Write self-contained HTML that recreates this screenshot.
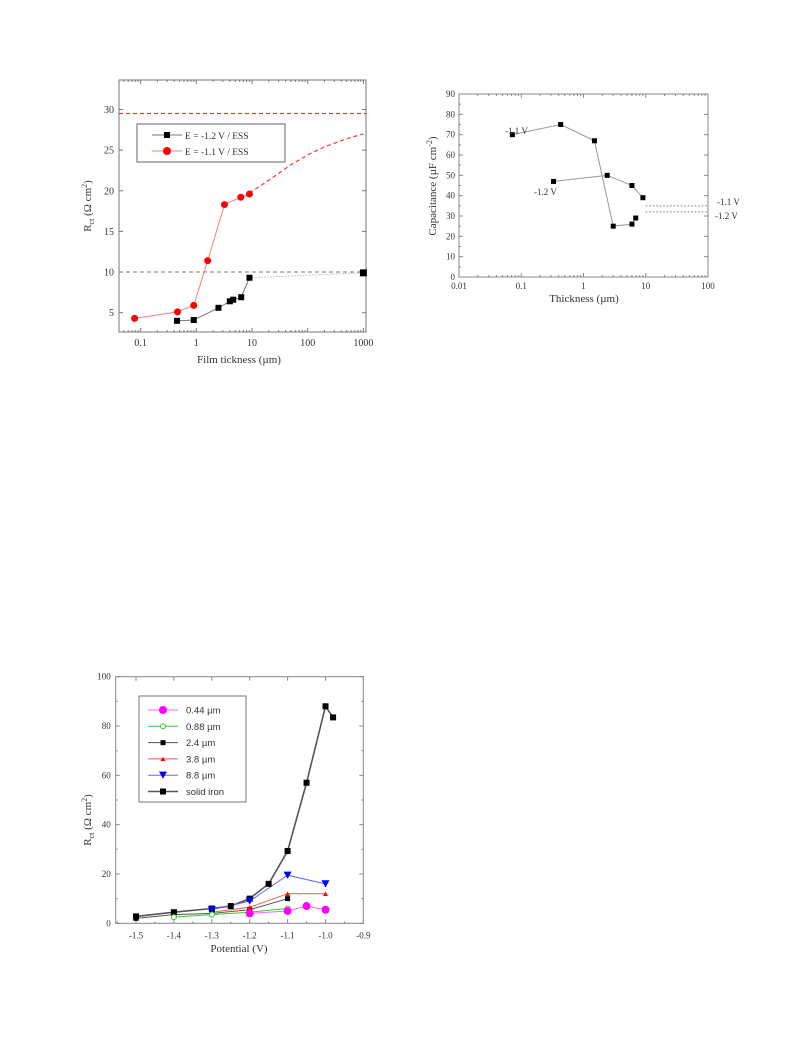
<!DOCTYPE html>
<html><head><meta charset="utf-8"><style>
html,body{margin:0;padding:0;background:#fff;width:793px;height:1059px;overflow:hidden}
svg{position:absolute;left:0;top:0}
text{font-family:"Liberation Serif",serif;fill:#333}
</style></head><body>
<svg id="svg" width="793" height="1059"></svg>
<script>
// ---------- Chart 1 data ----------
const c1BlackX=[0.45,0.9,2.5,4,4.6,6.4,9];
const c1BlackY=[4.0,4.1,5.6,6.4,6.6,6.9,9.3];
const c1SolidX=[1000]; const c1SolidY=[9.9];
const c1RedX=[0.078,0.46,0.9,1.6,3.2,6.3,9];
const c1RedY=[4.3,5.1,5.9,11.4,18.3,19.2,19.6];
const c1RedFitX=[9,20,50,100,200,500,1000];
const c1RedFitY=[19.7,21.3,23.2,24.4,25.4,26.4,27.0];
const c1YTicks=[5,10,15,20,25,30];
const c1XTicks=[0.1,1,10,100,1000];
const c1XTickLabels=["0.1","1","10","100","1000"];
// ---------- Chart 2 data ----------
const c2AX=[0.072,0.43,1.5,3.0,6.0,6.9];
const c2AY=[70,75,67,25,26,29];
const c2BX=[0.33,2.4,6.0,9.0];
const c2BY=[47,50,45,39];
const c2YTicks=[0,10,20,30,40,50,60,70,80,90];
const c2XTicks=[0.01,0.1,1,10,100];
const c2XTickLabels=["0.01","0.1","1","10","100"];
// ---------- Chart 3 data ----------
const c3Solid={x:[-1.5,-1.4,-1.3,-1.25,-1.2,-1.15,-1.1,-1.05,-1.0,-0.98],y:[2.8,4.5,6,7,10,16,29.3,57,88,83.5]};
const c3T24={x:[-1.5,-1.4,-1.3,-1.2,-1.1],y:[2,3.5,4,5.5,10]};
const c3T38={x:[-1.3,-1.2,-1.1,-1.0],y:[4.5,6.5,12,12]};
const c3T88={x:[-1.3,-1.2,-1.1,-1.0],y:[5.5,9,19.5,16]};
const c3T088={x:[-1.4,-1.3,-1.2,-1.1],y:[2.5,3.5,4.5,6]};
const c3T044={x:[-1.2,-1.1,-1.05,-1.0],y:[4,5,7,5.5]};
const c3XTicks=[-1.5,-1.4,-1.3,-1.2,-1.1,-1.0,-0.9];
const c3XTickLabels=["-1.5","-1.4","-1.3","-1.2","-1.1","-1.0","-0.9"];
const c3YTicks=[0,20,40,60,80,100];

const svg=document.getElementById('svg');
const NS='http://www.w3.org/2000/svg';
function mk(tag,attrs,name,parent){const e=document.createElementNS(NS,tag);for(const k in attrs)e.setAttribute(k,attrs[k]);


(parent||svg).appendChild(e);return e;}
function txt(x,y,s,name,opt){const t=mk('text',Object.assign({x:x,y:y,'font-size':10,'text-anchor':'middle'},opt||{}),name);t.textContent=s;return t;}
function poly(xs,ys,fx,fy,attrs,name){return mk('polyline',Object.assign({points:xs.map((v,i)=>fx(v)+','+fy(ys[i])).join(' '),fill:'none'},attrs),name);}
function sq(x,y,s,fill,name){return mk('rect',{x:x-s/2,y:y-s/2,width:s,height:s,fill:fill},name);}
function circ(x,y,r,fill,name,stroke){return mk('circle',{cx:x,cy:y,r:r,fill:fill,stroke:stroke||'none'},name);}
function tri(x,y,s,fill,down,name){const h=s*0.9;const p=down?[[x-s/2,y-h/2],[x+s/2,y-h/2],[x,y+h/2]]:[[x-s/2,y+h/2],[x+s/2,y+h/2],[x,y-h/2]];return mk('polygon',{points:p.map(a=>a.join(',')).join(' '),fill:fill},name);}

// ===== Chart 1 =====
const L1=119,R1=366,T1=80,B1=332;
const x1=v=>196.3+Math.log10(v)*55.7;
const y1=v=>312.7-(v-5)*8.13;
mk('rect',{x:L1,y:T1,width:R1-L1,height:B1-T1,fill:'none',stroke:'#777','stroke-width':1},'chart1-frame');
c1YTicks.forEach(v=>{mk('line',{x1:L1,x2:L1+4,y1:y1(v),y2:y1(v),stroke:'#777'},'c1-y-tick');mk('line',{x1:R1,x2:R1-4,y1:y1(v),y2:y1(v),stroke:'#777'},'c1-y-tick-right');txt(L1-5,y1(v)+3.5,String(v),'c1-y-tick-label',{'text-anchor':'end'});});
for(let d=-2;d<=3;d++)for(let m=1;m<10;m++){const v=m*Math.pow(10,d);const X=x1(v);if(X<L1||X>R1)continue;const l=m==1?4:2;
mk('line',{x1:X,x2:X,y1:B1,y2:B1-l,stroke:'#777'},'c1-x-tick');mk('line',{x1:X,x2:X,y1:T1,y2:T1+l,stroke:'#777'},'c1-x-tick-top');}
c1XTicks.forEach((v,i)=>txt(x1(v),B1+14,c1XTickLabels[i],'c1-x-tick-label'));
txt(239,363,'Film tickness (µm)','c1-x-axis-title',{'font-size':11});
const yt1=mk('text',{x:0,y:0,'font-size':11,'text-anchor':'middle',transform:'translate(91,206) rotate(-90)'},'c1-y-axis-title');
yt1.innerHTML='R<tspan font-size="8" dy="3">ct</tspan><tspan dy="-3"> (Ω cm</tspan><tspan font-size="8" dy="-4">2</tspan><tspan dy="4">)</tspan>';
mk('line',{x1:L1,x2:R1,y1:y1(29.5),y2:y1(29.5),stroke:'#f33','stroke-width':1.2,'stroke-dasharray':'4,3'},'c1-red-limit-line');
mk('line',{x1:L1,x2:R1,y1:y1(10),y2:y1(10),stroke:'#777','stroke-dasharray':'4,3'},'c1-gray-limit-line');
poly(c1RedFitX,c1RedFitY,x1,y1,{stroke:'#f33','stroke-dasharray':'4,3','stroke-width':1.2},'c1-red-fit');
poly([c1BlackX[c1BlackX.length-1],c1SolidX[0]],[c1BlackY[c1BlackY.length-1],c1SolidY[0]],x1,y1,{stroke:'#999','stroke-dasharray':'1,2'},'c1-black-extension');
poly(c1RedX,c1RedY,x1,y1,{stroke:'#f08080'},'c1-red-line');
poly(c1BlackX,c1BlackY,x1,y1,{stroke:'#777'},'c1-black-line');
c1RedX.forEach((v,i)=>circ(x1(v),y1(c1RedY[i]),3.5,'#f00','c1-red-point'));
c1BlackX.forEach((v,i)=>sq(x1(v),y1(c1BlackY[i]),6,'#000','c1-black-point'));
c1SolidX.forEach((v,i)=>sq(x1(v),y1(c1SolidY[i]),7,'#000','c1-solid-point'));
mk('rect',{x:137,y:124,width:148,height:38,fill:'#fff',stroke:'#666','stroke-width':1},'c1-legend');
mk('line',{x1:152,x2:182,y1:135,y2:135,stroke:'#777'},'c1-legend-line-black');sq(167,135,6,'#000','c1-legend-marker-black');
txt(185,139,'E = -1.2 V / ESS','c1-legend-label-black',{'text-anchor':'start','font-size':9.5});
mk('line',{x1:152,x2:182,y1:151,y2:151,stroke:'#f08080'},'c1-legend-line-red');circ(167,151,4,'#f00','c1-legend-marker-red');
txt(185,155,'E = -1.1 V / ESS','c1-legend-label-red',{'text-anchor':'start','font-size':9.5});

// ===== Chart 2 =====
const L2=459,R2=708,T2=94,B2=277;
const x2=v=>459+(Math.log10(v)+2)*62.25;
const y2=v=>277-v*(183/90);
mk('rect',{x:L2,y:T2,width:R2-L2,height:B2-T2,fill:'none',stroke:'#888'},'chart2-frame');
c2YTicks.forEach(v=>{mk('line',{x1:L2,x2:L2+4,y1:y2(v),y2:y2(v),stroke:'#888'},'c2-y-tick');mk('line',{x1:R2,x2:R2-4,y1:y2(v),y2:y2(v),stroke:'#888'},'c2-y-tick-right');txt(L2-4,y2(v)+3,String(v),'c2-y-tick-label',{'text-anchor':'end','font-size':9});
if(v<90){mk('line',{x1:L2,x2:L2+2,y1:y2(v+5),y2:y2(v+5),stroke:'#888'},'c2-y-minor');}});
for(let d=-2;d<=2;d++)for(let m=1;m<10;m++){const v=m*Math.pow(10,d);const X=x2(v);if(X>R2+0.5)continue;const l=m==1?4:2;
mk('line',{x1:X,x2:X,y1:B2,y2:B2-l,stroke:'#888'},'c2-x-tick');mk('line',{x1:X,x2:X,y1:T2,y2:T2+l,stroke:'#888'},'c2-x-tick-top');}
c2XTicks.forEach((v,i)=>txt(x2(v),B2+12,c2XTickLabels[i],'c2-x-tick-label',{'font-size':9}));
txt(584,302,'Thickness (µm)','c2-x-axis-title',{'font-size':11});
const yt2=mk('text',{x:0,y:0,'font-size':11,'text-anchor':'middle',transform:'translate(436,186) rotate(-90)'},'c2-y-axis-title');
yt2.innerHTML='Capacitance (µF cm<tspan font-size="8" dy="-4">-2</tspan><tspan dy="4">)</tspan>';
poly(c2AX,c2AY,x2,y2,{stroke:'#999'},'c2-line-1.1V');
poly(c2BX,c2BY,x2,y2,{stroke:'#999'},'c2-line-1.2V');
c2AX.forEach((v,i)=>sq(x2(v),y2(c2AY[i]),5,'#000','c2-point-1.1V'));
c2BX.forEach((v,i)=>sq(x2(v),y2(c2BY[i]),5,'#000','c2-point-1.2V'));
mk('line',{x1:x2(10),x2:R2,y1:y2(35),y2:y2(35),stroke:'#777','stroke-dasharray':'1.5,2'},'c2-limit-1.1V');
mk('line',{x1:x2(10),x2:R2,y1:y2(32),y2:y2(32),stroke:'#777','stroke-dasharray':'1.5,2'},'c2-limit-1.2V');
txt(505,134,'-1.1 V','c2-label-1.1V',{'font-size':9,'text-anchor':'start'});
txt(534,195,'-1.2 V','c2-label-1.2V',{'font-size':9,'text-anchor':'start'});
txt(717,205,'-1.1 V','c2-limit-label-1.1V',{'font-size':9,'text-anchor':'start'});
txt(715,219,'-1.2 V','c2-limit-label-1.2V',{'font-size':9,'text-anchor':'start'});

// ===== Chart 3 =====
const L3=115.7,R3=363.3,T3=676.7,B3=923.3;
const x3=v=>136+(v+1.5)*379;
const y3=v=>923.3-v*2.466;
mk('rect',{x:L3,y:T3,width:R3-L3,height:B3-T3,fill:'none',stroke:'#888'},'chart3-frame');
c3YTicks.forEach(v=>{mk('line',{x1:L3,x2:L3+4,y1:y3(v),y2:y3(v),stroke:'#888'},'c3-y-tick');mk('line',{x1:R3,x2:R3-4,y1:y3(v),y2:y3(v),stroke:'#888'},'c3-y-tick-right');txt(L3-5,y3(v)+3,String(v),'c3-y-tick-label',{'text-anchor':'end','font-size':9});
if(v<100){mk('line',{x1:L3,x2:L3+2,y1:y3(v+10),y2:y3(v+10),stroke:'#888'},'c3-y-minor');mk('line',{x1:R3,x2:R3-2,y1:y3(v+10),y2:y3(v+10),stroke:'#888'},'c3-y-minor-right');}});
c3XTicks.forEach((v,i)=>{mk('line',{x1:x3(v),x2:x3(v),y1:B3,y2:B3-4,stroke:'#888'},'c3-x-tick');mk('line',{x1:x3(v),x2:x3(v),y1:T3,y2:T3+4,stroke:'#888'},'c3-x-tick-top');
mk('line',{x1:x3(v-0.05),x2:x3(v-0.05),y1:B3,y2:B3-2,stroke:'#888'},'c3-x-minor');
txt(x3(v),B3+15,c3XTickLabels[i],'c3-x-tick-label',{'font-size':9});});
txt(239,952,'Potential (V)','c3-x-axis-title',{'font-size':11});
const yt3=mk('text',{x:0,y:0,'font-size':11,'text-anchor':'middle',transform:'translate(91,820) rotate(-90)'},'c3-y-axis-title');
yt3.innerHTML='R<tspan font-size="8" dy="3">ct</tspan><tspan dy="-3"> (Ω cm</tspan><tspan font-size="8" dy="-4">2</tspan><tspan dy="4">)</tspan>';
poly(c3Solid.x,c3Solid.y,x3,y3,{stroke:'#555','stroke-width':1.6},'c3-line-solid-iron');
poly(c3T24.x,c3T24.y,x3,y3,{stroke:'#555'},'c3-line-2.4um');
poly(c3T38.x,c3T38.y,x3,y3,{stroke:'#f55'},'c3-line-3.8um');
poly(c3T88.x,c3T88.y,x3,y3,{stroke:'#66f'},'c3-line-8.8um');
poly(c3T088.x,c3T088.y,x3,y3,{stroke:'#3c3'},'c3-line-0.88um');
poly(c3T044.x,c3T044.y,x3,y3,{stroke:'#f6f'},'c3-line-0.44um');
c3Solid.x.forEach((v,i)=>sq(x3(v),y3(c3Solid.y[i]),6,'#000','c3-point-solid-iron'));
c3T24.x.forEach((v,i)=>sq(x3(v),y3(c3T24.y[i]),5,'#000','c3-point-2.4um'));
c3T38.x.forEach((v,i)=>tri(x3(v),y3(c3T38.y[i]),5,'#f00',false,'c3-point-3.8um'));
c3T88.x.forEach((v,i)=>tri(x3(v),y3(c3T88.y[i]),8,'#00f',true,'c3-point-8.8um'));
c3T088.x.forEach((v,i)=>circ(x3(v),y3(c3T088.y[i]),2.5,'#fff','c3-point-0.88um','#3c3'));
c3T044.x.forEach((v,i)=>circ(x3(v),y3(c3T044.y[i]),4,'#f0f','c3-point-0.44um'));
mk('rect',{x:139,y:696,width:107,height:106,fill:'#fff',stroke:'#777'},'c3-legend');
const leg=[['0.44 µm','#f6f','c'],['0.88 µm','#3c3','o'],['2.4 µm','#555','s'],['3.8 µm','#f55','t'],['8.8 µm','#66f','v'],['solid iron','#555','S']];
leg.forEach((e,i)=>{const y=710+i*16.3;
mk('line',{x1:148,x2:178,y1:y,y2:y,stroke:e[1],'stroke-width':e[2]=='S'?1.6:1},'c3-legend-line');
if(e[2]=='c')circ(163,y,4,'#f0f','c3-legend-marker');
if(e[2]=='o')circ(163,y,2.5,'#fff','c3-legend-marker','#3c3');
if(e[2]=='s')sq(163,y,5,'#000','c3-legend-marker');
if(e[2]=='S')sq(163,y,6,'#000','c3-legend-marker');
if(e[2]=='t')tri(163,y,5,'#f00',false,'c3-legend-marker');
if(e[2]=='v')tri(163,y,8,'#00f',true,'c3-legend-marker');
const t=mk('text',{x:186,y:y+3.5,'font-size':9.5,style:'font-family:"Liberation Sans",sans-serif'},'c3-legend-label');t.textContent=e[0];});
</script>
</body></html>
